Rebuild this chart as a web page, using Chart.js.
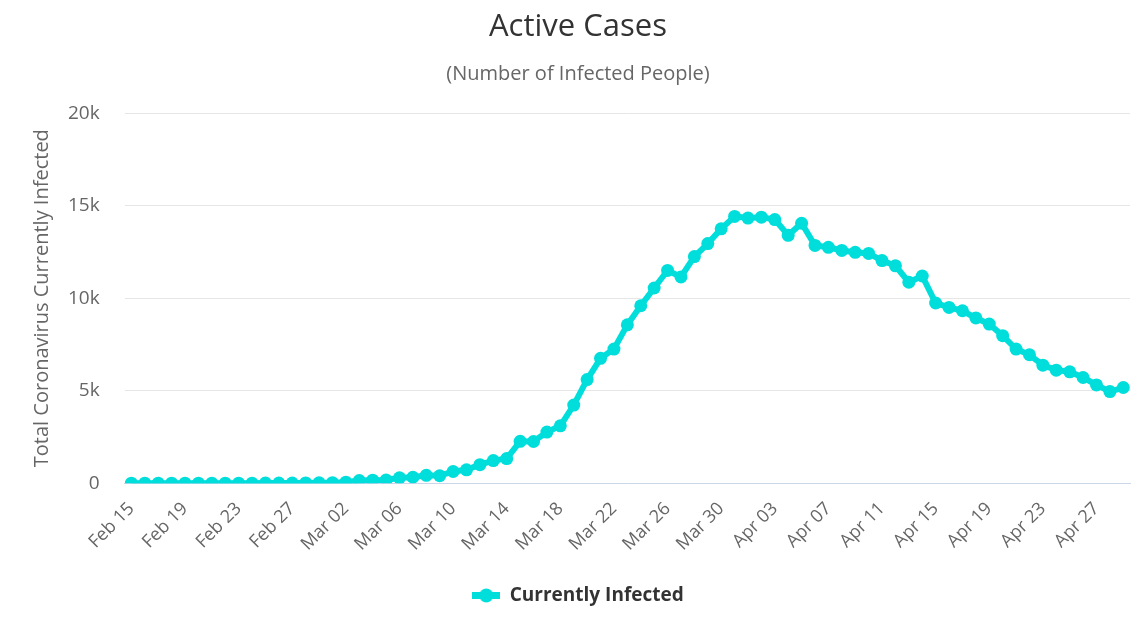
<!DOCTYPE html>
<html>
<head>
<meta charset="utf-8">
<script src="https://cdn.jsdelivr.net/npm/chart.js@4"></script>
<style>
  html, body { margin: 0; padding: 0; background: #ffffff; }
  #wrap { width: 1140px; height: 620px; }
</style>
</head>
<body>
<div id="wrap"><canvas id="c" width="1140" height="620"></canvas></div>
<script>
const dates = [
  "Feb 15","Feb 16","Feb 17","Feb 18","Feb 19","Feb 20","Feb 21","Feb 22","Feb 23","Feb 24",
  "Feb 25","Feb 26","Feb 27","Feb 28","Feb 29","Mar 01","Mar 02","Mar 03","Mar 04","Mar 05",
  "Mar 06","Mar 07","Mar 08","Mar 09","Mar 10","Mar 11","Mar 12","Mar 13","Mar 14","Mar 15",
  "Mar 16","Mar 17","Mar 18","Mar 19","Mar 20","Mar 21","Mar 22","Mar 23","Mar 24","Mar 25",
  "Mar 26","Mar 27","Mar 28","Mar 29","Mar 30","Mar 31","Apr 01","Apr 02","Apr 03","Apr 04",
  "Apr 05","Apr 06","Apr 07","Apr 08","Apr 09","Apr 10","Apr 11","Apr 12","Apr 13","Apr 14",
  "Apr 15","Apr 16","Apr 17","Apr 18","Apr 19","Apr 20","Apr 21","Apr 22","Apr 23","Apr 24",
  "Apr 25","Apr 26","Apr 27","Apr 28","Apr 29"
];
const currentlyInfected = [
  0, 0, 0, 0, 0, 0, 0, 0, 0, 0,
  1, 1, 8, 14, 17, 26, 50, 140, 160, 170,
  290, 320, 420, 400, 630, 720, 1000, 1220, 1330, 2260,
  2250, 2760, 3100, 4220, 5600, 6750, 7250, 8560, 9590, 10550,
  11500, 11150, 12250, 12950, 13750, 14420, 14330, 14380, 14250, 13400,
  14050, 12850, 12750, 12580, 12480, 12420, 12030, 11750, 10860, 11200,
  9740, 9500, 9320, 8930, 8600, 7970, 7250, 6940, 6380, 6110,
  6020, 5710, 5310, 4950, 5170
];
const yTicks = [0, 5000, 10000, 15000, 20000];
const yTickLabels = ["0", "5k", "10k", "15k", "20k"];
const labelEvery = 4;

const LINE = '#00dedb';
const FONT = "'Open Sans', 'Noto Sans', sans-serif";

// legend marker: line with a circle
const marker = document.createElement('canvas');
marker.width = 28; marker.height = 15;
(function(){
  const g = marker.getContext('2d');
  g.fillStyle = LINE;
  g.fillRect(0, 4, 28, 7);
  g.beginPath(); g.arc(14, 7.5, 7, 0, Math.PI * 2); g.fill();
})();

new Chart(document.getElementById('c'), {
  type: 'line',
  data: {
    labels: dates,
    datasets: [{
      label: 'Currently Infected',
      data: currentlyInfected,
      borderColor: LINE,
      backgroundColor: LINE,
      borderWidth: 6,
      pointRadius: 6.5,
      pointHoverRadius: 6.5,
      pointBackgroundColor: LINE,
      pointBorderWidth: 0,
      tension: 0,
      pointStyle: 'circle'
    }]
  },
  options: {
    responsive: false,
    animation: false,
    devicePixelRatio: 1,
    layout: { padding: { left: 26, right: 10, top: 0, bottom: 5 } },
    plugins: {
      title: {
        display: true,
        text: 'Active Cases',
        color: '#333333',
        font: { family: FONT, size: 31, weight: 'normal' },
        padding: { top: 9, bottom: 8 }
      },
      subtitle: {
        display: true,
        text: '(Number of Infected People)',
        color: '#666666',
        font: { family: FONT, size: 20, weight: 'normal' },
        padding: { top: 8, bottom: 27 }
      },
      legend: {
        display: true,
        position: 'bottom',
        labels: {
          color: '#333333',
          font: { family: FONT, size: 19, weight: 'bold' },
          usePointStyle: true,
          pointStyle: marker,
          pointStyleWidth: 28,
          padding: 10
        }
      },
      tooltip: { enabled: false }
    },
    scales: {
      x: {
        type: 'category',
        offset: true,
        afterFit: function(axis) { axis.paddingLeft = 0; axis.paddingRight = 0; axis.height += 6; },
        grid: { display: false, drawTicks: false },
        border: { display: true, color: '#ccd6eb', width: 1 },
        ticks: {
          autoSkip: false,
          maxRotation: 45,
          minRotation: 45,
          color: '#666666',
          padding: 15,
          font: { family: FONT, size: 18 },
          callback: function(v, i) { return i % labelEvery === 0 ? dates[i] : null; }
        }
      },
      y: {
        min: 0,
        max: 20000,
        afterBuildTicks: function(axis) { axis.ticks = yTicks.map(v => ({ value: v })); },
        afterFit: function(axis) { axis.width -= axis.options.ticks.padding; },
        grid: { color: '#e6e6e6', lineWidth: 1, drawTicks: false },
        border: { display: false },
        ticks: {
          color: '#666666',
          padding: 25,
          font: { family: FONT, size: 19 },
          callback: function(v) { const k = yTicks.indexOf(v); return k >= 0 ? yTickLabels[k] : ''; }
        },
        title: {
          display: true,
          text: 'Total Coronavirus Currently Infected',
          color: '#666666',
          font: { family: FONT, size: 20 },
          padding: { top: 4, bottom: 14 }
        }
      }
    }
  }
});
</script>
</body>
</html>
